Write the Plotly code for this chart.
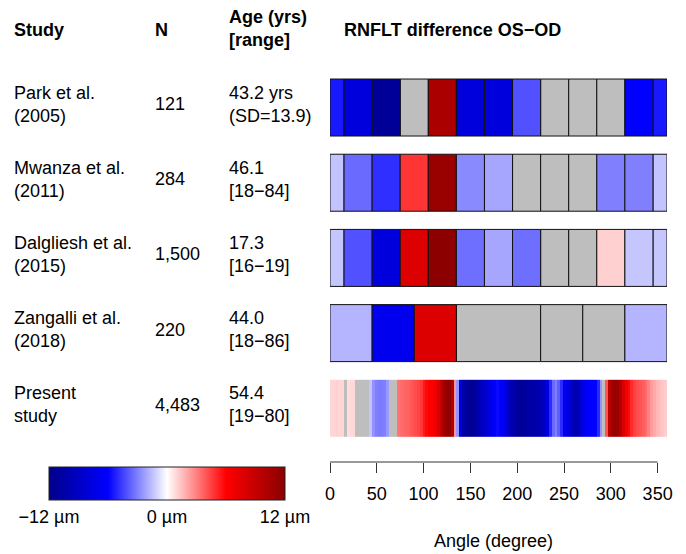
import plotly.graph_objects as go

# ---------------- data ----------------
studies = ["Park et al.<br>(2005)", "Mwanza et al.<br>(2011)", "Dalgliesh et al.<br>(2015)",
           "Zangalli et al.<br>(2018)", "Present<br>study"]
n_labels = ["121", "284", "1,500", "220", "4,483"]
age_labels = ["43.2 yrs<br>(SD=13.9)", "46.1<br>[18\u221284]", "17.3<br>[16\u221219]",
              "44.0<br>[18\u221286]", "54.4<br>[19\u221280]"]

# clock-hour sectors (30 deg), first sector wraps around 0
clock_starts = [-15, 15, 45, 75, 105, 135, 165, 195, 225, 255, 285, 315]
clock_ends = [15, 45, 75, 105, 135, 165, 195, 225, 255, 285, 315, 345]
park = [-5.4, -7.8, -11.3, None, 10.4, -7.8, -7.8, -4.1, None, None, None, -6.0]
mwanza = [-1.4, -3.5, -4.9, 4.75, 11.3, -2.75, -2.1, None, None, None, -3.0, -3.0]
dalgliesh = [-1.35, -4.1, -7.8, 7.8, 11.9, -3.4, -2.1, -3.4, None, None, 1.1, -1.35]

# Garway-Heath style sectors (first wraps around 0)
gh_starts = [-45, 45, 90, 135, 225, 270]
gh_ends = [45, 90, 135, 225, 270, 315]
zangalli = [-1.75, -6.9, 7.8, None, None, None]

# present study, 3-degree bins (None = not significant)
present_edges = list(range(0, 361, 3))
present = [
    1.0, 1.0, 1.1, 1.0, 1.0, None, 0.8, 0.9, 0.9, None,          # 0-27
    None, None, None, None, -1.4, -2.6, -3.0, -3.1, -3.1, -3.0,   # 30-57
    -2.4, None, None, None, 3.3, 3.5, 3.6, 3.7, 3.8, 4.0,          # 60-87
    4.2, 4.4, 4.7, 5.4, 5.8, 6.0, 6.2, 6.8, 7.8, 9.0,             # 90-117
    10.5, 11.5, 11.8, 10.0, 2.5, -2.5, -7.5, -10.5, -11.2, -11.5, # 120-147
    -11.5, -11.0, -10.5, -9.5, -9.0, -8.5, -8.0, -7.0, -6.2, -5.8,  # 150-177
    -6.0, -6.5, -7.5, -9.0, -10.0, -10.5, -11.0, -11.3, -11.3, -11.0,  # 180-207
    -10.8, -10.5, -10.5, -10.5, -10.0, -9.5, -9.0, -7.5, -5.0, -3.5,  # 210-237
    -3.0, -3.8, -5.0, -6.5, -7.5, -8.5, -9.5, -10.0, -9.5, -8.0,    # 240-267
    -7.0, -6.3, -6.0, -6.0, -6.0, -5.0, -2.5, None, 4.0, 9.5,       # 270-297
    11.0, 11.3, 11.0, 10.0, 8.0, 6.5, 5.8, 5.0, 4.5, 4.2,           # 300-327
    4.0, 3.8, 3.5, 3.0, 2.3, 2.0, 1.7, 1.5, 1.3, 1.2,               # 330-357
]

tick_vals = [0, 50, 100, 150, 200, 250, 300, 350]
cbar_ticks = [-12, 0, 12]
cbar_text = ["\u221212 \u00b5m", "0 \u00b5m", "12 \u00b5m"]

# ---------------- layout helpers ----------------
W, H = 686, 554
ML, MR, MT, MB = 330, 19, 60, 92
PW, PH = W - ML - MR, H - MT - MB
FONT = "Liberation Sans, Arial, sans-serif"
FS = 18
BAR_H = 0.758
ROW_PX = 75.2
GRAY = "#BEBEBE"


def px_x(px):
    return (px - ML) / PW


def px_y(py):
    return (H - MB - py) / PH


def segments(starts, ends, vals):
    out = []
    for s, e, v in zip(starts, ends, vals):
        if s < 0:
            out.append((0, e, v))
            out.append((360 + s, 360, v))
        else:
            out.append((s, e, v))
    return out


fig = go.Figure()

rows = [(clock_starts, clock_ends, park), (clock_starts, clock_ends, mwanza),
        (clock_starts, clock_ends, dalgliesh), (gh_starts, gh_ends, zangalli)]

for i, (st, en, vals) in enumerate(rows):
    segs = segments(st, en, vals)
    sig = [sg for sg in segs if sg[2] is not None]
    ns = [sg for sg in segs if sg[2] is None]
    if ns:
        fig.add_trace(go.Bar(orientation="h", y=[i] * len(ns), base=[s for s, e, v in ns],
                             x=[e - s for s, e, v in ns], width=BAR_H,
                             marker=dict(color=GRAY, line=dict(color="#111111", width=1)),
                             hoverinfo="skip", showlegend=False))
    fig.add_trace(go.Bar(orientation="h", y=[i] * len(sig), base=[s for s, e, v in sig],
                         x=[e - s for s, e, v in sig], width=BAR_H,
                         marker=dict(color=[v for s, e, v in sig], coloraxis="coloraxis",
                                     line=dict(color="#111111", width=1)),
                         hoverinfo="skip", showlegend=False))

# present study heatmap
prow = 4
y_edges = [prow - BAR_H / 2, prow + BAR_H / 2]
fig.add_trace(go.Heatmap(x=present_edges, y=y_edges,
                         z=[[1 if v is None else None for v in present]],
                         colorscale=[[0, GRAY], [1, GRAY]], showscale=False, hoverinfo="skip"))
fig.add_trace(go.Heatmap(x=present_edges, y=y_edges, z=[present],
                         coloraxis="coloraxis", hoverinfo="skip"))

# row text
for i in range(len(studies)):
    for xpx, txt in ((12, studies[i]), (153, n_labels[i]), (227, age_labels[i])):
        fig.add_annotation(x=px_x(xpx), xref="paper", y=i - 3.5 / ROW_PX, yref="y", text=txt,
                           xanchor="left", yanchor="middle", align="left", showarrow=False,
                           font=dict(size=FS, color="black", family=FONT))

# headers
for xpx, ypx, txt in ((12, 30, "<b>Study</b>"), (153, 30, "<b>N</b>"),
                      (227, 29, "<b>Age (yrs)</b><br><b>[range]</b>"),
                      (342, 30, "<b>RNFLT difference OS\u2212OD</b>")):
    fig.add_annotation(x=px_x(xpx), xref="paper", y=px_y(ypx), yref="paper", text=txt,
                       xanchor="left", yanchor="middle", align="left", showarrow=False,
                       font=dict(size=FS, color="black", family=FONT))

# axis title
fig.add_annotation(x=px_x(493), xref="paper", y=px_y(541), yref="paper", text="Angle (degree)",
                   xanchor="center", yanchor="middle", showarrow=False,
                   font=dict(size=FS, color="black", family=FONT))

# axis line spanning first to last tick
fig.add_shape(type="line", xref="x", yref="paper", x0=tick_vals[0], x1=tick_vals[-1],
              y0=0, y1=0, line=dict(color="#333333", width=1))

fig.update_layout(
    width=W, height=H, margin=dict(l=ML, r=MR, t=MT, b=MB, pad=0),
    paper_bgcolor="white", plot_bgcolor="white", barmode="overlay",
    font=dict(family=FONT, size=FS, color="black"),
    xaxis=dict(range=[0, 360], tickvals=tick_vals, ticks="outside", ticklen=10,
               tickcolor="#333333", tickwidth=1, showline=False, showgrid=False,
               zeroline=False, tickfont=dict(size=FS, color="black"), fixedrange=True,
               ticklabelstandoff=5),
    yaxis=dict(range=[4.714, -0.632], visible=False, fixedrange=True),
    coloraxis=dict(
        colorscale=[[0, "#00008B"], [0.25, "#0000FF"], [0.5, "#FFFFFF"],
                    [0.75, "#FF0000"], [1, "#8B0000"]],
        cmin=-12, cmax=12,
        colorbar=dict(orientation="h", x=px_x(167), xanchor="center", y=px_y(467),
                      yanchor="top", lenmode="pixels", len=236, thicknessmode="pixels",
                      thickness=33, outlinewidth=1, outlinecolor="#222222",
                      tickvals=cbar_ticks, ticktext=cbar_text, ticks="",
                      tickfont=dict(size=FS, color="black"), xpad=0, ypad=0),
    ),
    showlegend=False,
)

fig.write_html("out.html")
